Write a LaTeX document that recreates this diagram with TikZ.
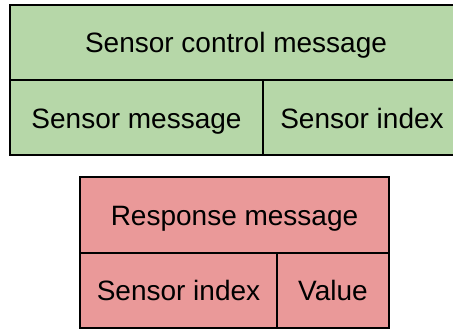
\documentclass[tikz,border=0pt]{standalone}
\usepackage{fontspec}
\setmainfont{Liberation Sans}
\definecolor{cellgreen}{HTML}{B6D7A8}
\definecolor{cellred}{HTML}{EA9999}
\begin{document}
\begin{tikzpicture}[x=1pt,y=-1pt,
  cell/.style={draw=black, line width=2.5pt, inner sep=0pt, outer sep=0pt,
    anchor=north west},
  greencell/.style={cell, fill=cellgreen},
  redcell/.style={cell, fill=cellred},
  label/.style={font=\fontsize{28}{34}\selectfont, inner sep=0pt, anchor=base}]
\useasboundingbox (0,0) rectangle (453,331);
\clip (0,0) rectangle (453,331);
% sensor control message block (runs past the right edge)
\node[greencell, minimum width=470pt, minimum height=75pt] (gtop) at (10,5) {};
\node[greencell, minimum width=253pt, minimum height=75pt] (gleft) at (10,80) {};
\node[greencell, minimum width=217pt, minimum height=75pt] (gright) at (263,80) {};
\node[label] (gtoplabel) at (236,53) {Sensor control message};
\node[label] (gleftlabel) at (gleft.center |- 0,129) {Sensor message};
\node[label] (grightlabel) at (362,129) {Sensor index};
% response message block
\node[redcell, minimum width=309pt, minimum height=76pt] (rtop) at (80,177) {};
\node[redcell, minimum width=197pt, minimum height=75pt] (rleft) at (80,253) {};
\node[redcell, minimum width=112pt, minimum height=75pt] (rright) at (277,253) {};
\node[label] (rtoplabel) at (rtop.center |- 0,226) {Response message};
\node[label] (rleftlabel) at (rleft.center |- 0,301) {Sensor index};
\node[label] (rrightlabel) at (rright.center |- 0,301) {Value};
\end{tikzpicture}
\end{document}
